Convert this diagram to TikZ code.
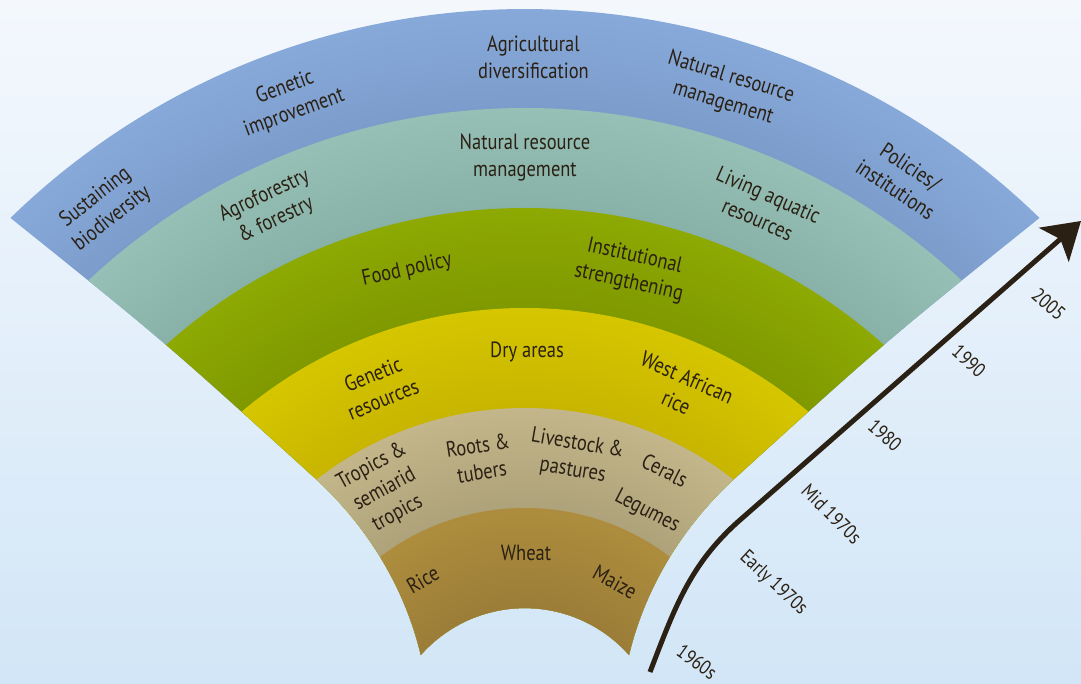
\documentclass[tikz,border=0pt]{standalone}
\usepackage{fontspec}
\setmainfont[FakeStretch=0.84]{PT Sans}
\usetikzlibrary{arrows.meta}

\definecolor{ink}{HTML}{2A2013}
\definecolor{bgtop}{HTML}{F4F8FD}
\definecolor{bgbot}{HTML}{D2E6F7}
\definecolor{blueout}{HTML}{87A9D9}
\definecolor{bluein}{HTML}{7C9DCC}
\definecolor{tealout}{HTML}{96BFB6}
\definecolor{tealin}{HTML}{88B1A8}
\definecolor{greenout}{HTML}{8DA902}
\definecolor{greenin}{HTML}{7F9900}
\definecolor{yellowout}{HTML}{D5C600}
\definecolor{yellowin}{HTML}{C8B500}
\definecolor{tanout}{HTML}{C3B68A}
\definecolor{tanin}{HTML}{AEA27A}
\definecolor{brownout}{HTML}{AD8D3D}
\definecolor{brownin}{HTML}{9B7D38}

\pgfdeclareradialshading{blueband}{\pgfpoint{0bp}{0bp}}{color(0bp)=(bluein); color(21.65bp)=(bluein); color(25bp)=(blueout); color(50bp)=(blueout)}
\pgfdeclareradialshading{tealband}{\pgfpoint{0bp}{0bp}}{color(0bp)=(tealin); color(21.09bp)=(tealin); color(25bp)=(tealout); color(50bp)=(tealout)}
\pgfdeclareradialshading{greenband}{\pgfpoint{0bp}{0bp}}{color(0bp)=(greenin); color(20.36bp)=(greenin); color(25bp)=(greenout); color(50bp)=(greenout)}
\pgfdeclareradialshading{yellowband}{\pgfpoint{0bp}{0bp}}{color(0bp)=(yellowin); color(19.31bp)=(yellowin); color(25bp)=(yellowout); color(50bp)=(yellowout)}
\pgfdeclareradialshading{tanband}{\pgfpoint{0bp}{0bp}}{color(0bp)=(tanin); color(17.63bp)=(tanin); color(25bp)=(tanout); color(50bp)=(tanout)}
\pgfdeclareradialshading{brownband}{\pgfpoint{0bp}{0bp}}{color(0bp)=(brownin); color(14.54bp)=(brownin); color(25bp)=(brownout); color(50bp)=(brownout)}

\begin{document}
\begin{tikzpicture}[x=1pt,y=1pt,
    lbl/.style={font=\fontsize{22}{27}\selectfont,align=center,text=ink},
    yr/.style={font=\fontsize{20}{24}\selectfont,text=ink}]
  \useasboundingbox (-525,64) rectangle (556,747);
  \shade[top color=bgtop,bottom color=bgbot] (-525,64) rectangle (556,747);

  \begin{scope}
    \clip (134.2:738) arc[start angle=134.2,end angle=45.8,radius=738]
      .. controls (360,405) .. (208,267)
      .. controls (150,213) and (118,150) .. (104,92)
      arc[start angle=41.5,end angle=138.5,radius=139]
      .. controls (-118,150) and (-150,213) .. (-208,267)
      .. controls (-360,405) .. (134.2:738) -- cycle;
    \shade[shading=blueband] (0,0) circle (738);
    \shade[shading=tealband] (0,0) circle (639);
    \shade[shading=greenband] (0,0) circle (539);
    \shade[shading=yellowband] (0,0) circle (439);
    \shade[shading=tanband] (0,0) circle (339);
    \shade[shading=brownband] (0,0) circle (239);
  \end{scope}

  \node[lbl,rotate=38] (sustain) at (128:684) {Sustaining\\biodiversity};
  \node[lbl,rotate=20] (genimp) at (110:688) {Genetic\\improvement};
  \node[lbl] (agdiv) at (89.3:690) {Agricultural\\diversification};
  \node[lbl,rotate=-17] (nrmout) at (72.9:687) {Natural resource\\management};
  \node[lbl,rotate=-33.6] (policy) at (56.4:683) {Policies/\\institutions};

  \node[lbl,rotate=25.3] (agrofor) at (115.3:596) {Agroforestry\\\& forestry};
  \node[lbl] (nrmin) at (90:589) {Natural resource\\management};
  \node[lbl,rotate=-23.8] (aquatic) at (66.2:590) {Living aquatic\\resources};

  \node[lbl,rotate=12.5] (food) at (103.9:491) {Food policy};
  \node[lbl,rotate=-12.6] (inst) at (77.4:489) {Institutional\\strengthening};

  \node[lbl,rotate=22.2] (genres) at (112.2:389) {Genetic\\resources};
  \node[lbl] (dry) at (89.7:395) {Dry areas};
  \node[lbl,rotate=-23.7] (warice) at (66.3:390) {West African\\rice};

  \node[lbl,rotate=28.6] (tropics) at (118.6:293) {Tropics \&\\semiarid\\tropics};
  \node[lbl,rotate=8.9] (roots) at (98.9:292) {Roots \&\\tubers};
  \node[lbl,rotate=-9.8] (livestock) at (80.2:294) {Livestock \&\\pastures};
  \node[lbl,rotate=-26.8] (cerals) at (63.2:310) {Cerals};
  \node[lbl,rotate=-27.4] (legumes) at (62.6:265) {Legumes};

  \node[lbl,rotate=30] (rice) at (121.4:196) {Rice};
  \node[lbl] (wheat) at (89.7:194) {Wheat};
  \node[lbl,rotate=-28.6] (maize) at (61.4:188) {Maize};

  \coordinate (t0) at (125,75);
  \coordinate (t1) at (556,526);
  \draw[line width=5pt,ink,-{Stealth[length=36pt,width=45pt,inset=8.5pt]}]
    (t0) .. controls (150,140) and (165,183) .. (215,227) -- (t1);

  \node[yr,rotate=-41] (y2005) at (523.7,442.7) {2005};
  \node[yr,rotate=-42] (y1990) at (444,386) {1990};
  \node[yr,rotate=-42] (y1980) at (360,311.7) {1980};
  \node[yr,rotate=-45] (ymid) at (306.7,233) {Mid 1970s};
  \node[yr,rotate=-43] (yearly) at (248.3,163.7) {Early 1970s};
  \node[yr,rotate=-36] (y1960) at (172,85) {1960s};
\end{tikzpicture}
\end{document}
